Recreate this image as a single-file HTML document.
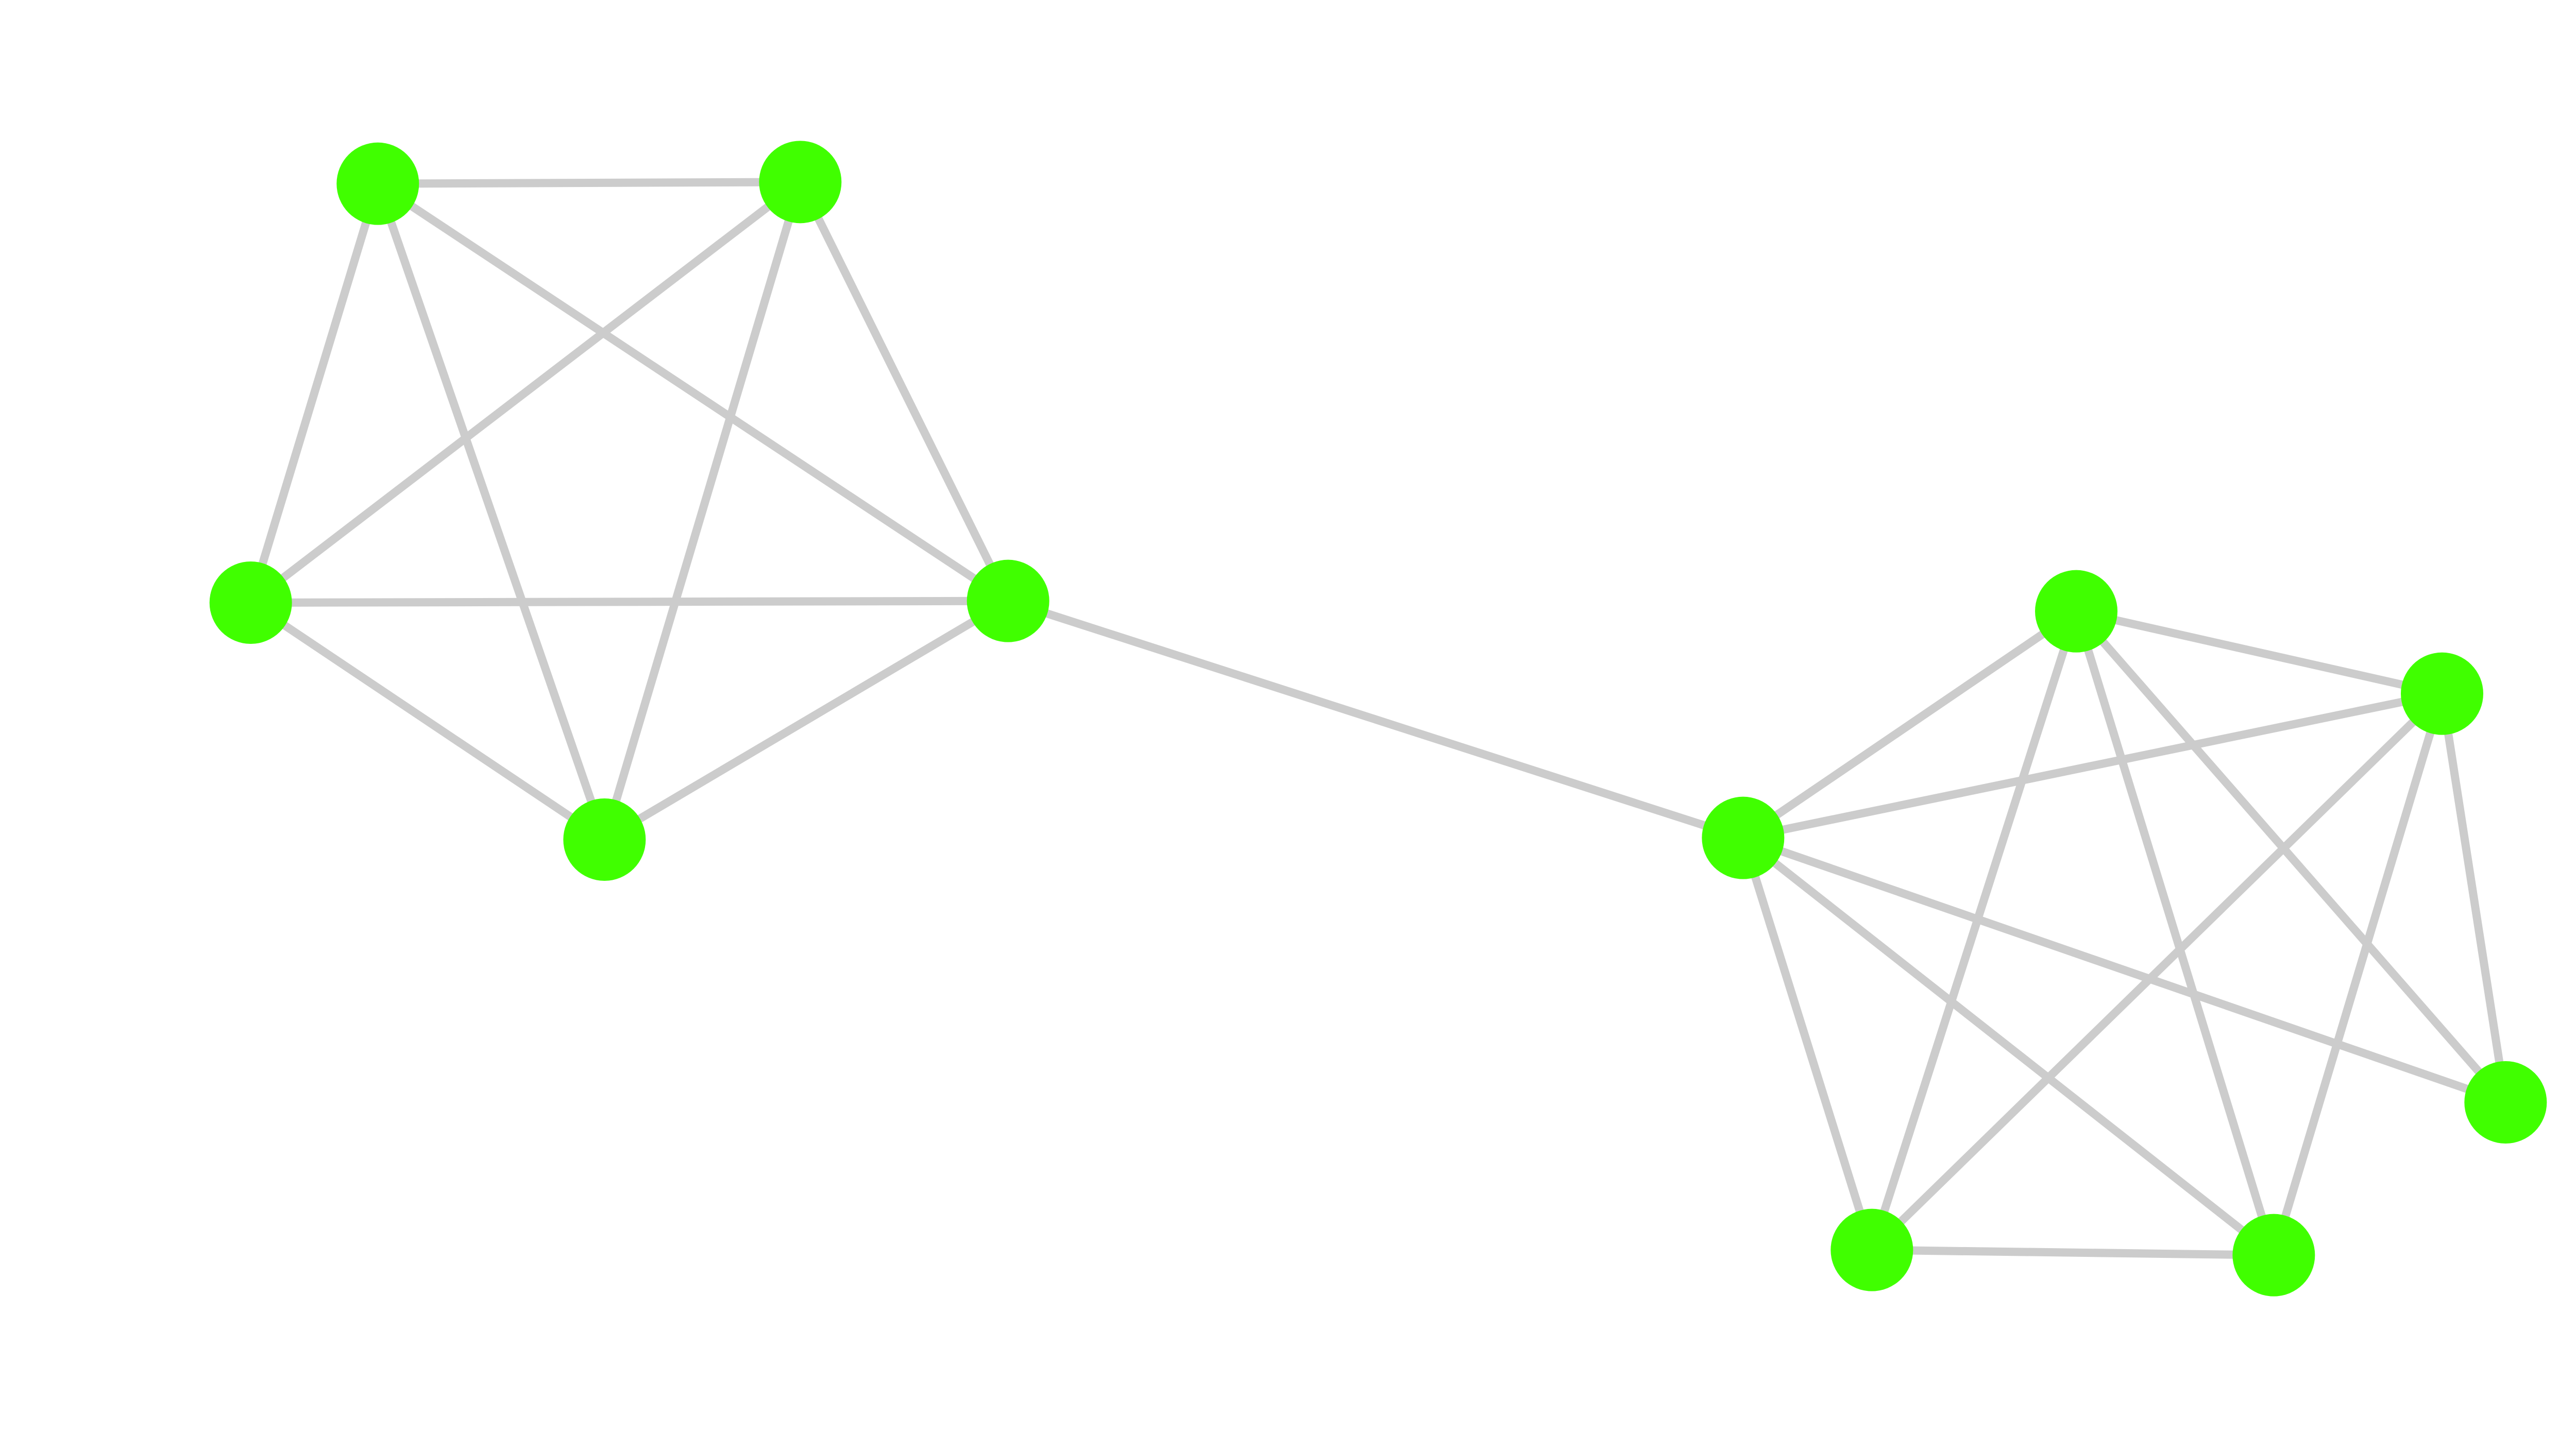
<!DOCTYPE html>
<html><head><meta charset="utf-8"><style>
html,body{margin:0;padding:0;background:#fff;width:5200px;height:2780px;overflow:hidden}
svg{display:block}
</style></head><body>
<svg width="5200" height="2780" viewBox="0 0 1560 834" preserveAspectRatio="none" xmlns="http://www.w3.org/2000/svg">
<g stroke="#cccccc" stroke-width="4.8" fill="none">
<line x1="220" y1="107" x2="466" y2="106"/>
<line x1="220" y1="107" x2="146" y2="351"/>
<line x1="220" y1="107" x2="352" y2="489"/>
<line x1="220" y1="107" x2="587" y2="350"/>
<line x1="466" y1="106" x2="146" y2="351"/>
<line x1="466" y1="106" x2="352" y2="489"/>
<line x1="466" y1="106" x2="587" y2="350"/>
<line x1="146" y1="351" x2="587" y2="350"/>
<line x1="146" y1="351" x2="352" y2="489"/>
<line x1="587" y1="350" x2="352" y2="489"/>
<line x1="587" y1="350" x2="1015" y2="488"/>
<line x1="1015" y1="488" x2="1209" y2="356"/>
<line x1="1015" y1="488" x2="1422" y2="404"/>
<line x1="1015" y1="488" x2="1459" y2="642"/>
<line x1="1015" y1="488" x2="1090" y2="728"/>
<line x1="1015" y1="488" x2="1324" y2="731"/>
<line x1="1209" y1="356" x2="1422" y2="404"/>
<line x1="1209" y1="356" x2="1459" y2="642"/>
<line x1="1209" y1="356" x2="1090" y2="728"/>
<line x1="1209" y1="356" x2="1324" y2="731"/>
<line x1="1422" y1="404" x2="1459" y2="642"/>
<line x1="1422" y1="404" x2="1090" y2="728"/>
<line x1="1422" y1="404" x2="1324" y2="731"/>
<line x1="1090" y1="728" x2="1324" y2="731"/>
</g>
<g fill="#40ff00">
<circle cx="220" cy="107" r="24"/>
<circle cx="466" cy="106" r="24"/>
<circle cx="146" cy="351" r="24"/>
<circle cx="587" cy="350" r="24"/>
<circle cx="352" cy="489" r="24"/>
<circle cx="1015" cy="488" r="24"/>
<circle cx="1209" cy="356" r="24"/>
<circle cx="1422" cy="404" r="24"/>
<circle cx="1459" cy="642" r="24"/>
<circle cx="1090" cy="728" r="24"/>
<circle cx="1324" cy="731" r="24"/>
</g>
</svg>
</body></html>
